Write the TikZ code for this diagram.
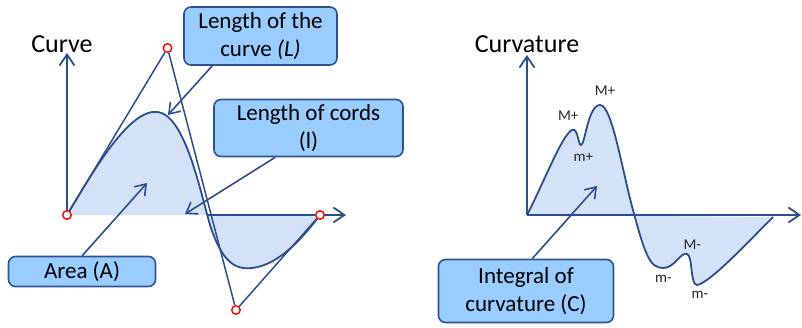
\documentclass[tikz,border=0pt]{standalone}
\usepackage{fontspec}
\setmainfont{Carlito}
\usetikzlibrary{arrows.meta}
\definecolor{navy}{HTML}{2E4D8E}
\definecolor{boxfill}{HTML}{99CCFF}
\definecolor{boxline}{HTML}{2F528F}
\definecolor{areafill}{HTML}{D4E2F7}
\tikzset{
  curveline/.style={draw=navy, line width=1.8pt},
  axisline/.style={draw=navy, line width=1.8pt, -{Straight Barb[length=11pt,width=15pt,line width=1.8pt]}},
  callarrow/.style={draw=navy, line width=1.6pt, -{Straight Barb[length=10pt,width=14pt,line width=1.6pt]}},
  chord/.style={draw=navy, line width=1.5pt},
  dot/.style={circle, draw=red, fill=white, line width=1.4pt, minimum size=8.5pt, inner sep=0pt},
  callbox/.style={draw=boxline, fill=boxfill, line width=1.6pt, rounded corners=7pt, align=center, inner sep=0pt, font=\fontsize{23}{28}\selectfont},
  title/.style={font=\fontsize{26}{30}\selectfont},
  small/.style={font=\fontsize{15}{18}\selectfont, text=black!85}
}
\begin{document}
\begin{tikzpicture}[x=1pt,y=-1pt]
\useasboundingbox (0,0) rectangle (802,327);
% ---------- left panel ----------
\coordinate (o1) at (67,215);
\coordinate (xc) at (207,215);
\coordinate (xe) at (346,215);
\coordinate (ye) at (67,53);
\fill[areafill] (67,215) .. controls (95,168) and (130,108) .. (158,112)
  .. controls (185,116) and (200,190) .. (210,225)
  .. controls (222,262) and (235,270) .. (252,268)
  .. controls (280,265) and (305,235) .. (320,215) -- cycle;
\draw[axisline] (xc) -- (xe);
\draw[axisline] (o1) -- (ye);
\draw[curveline] (67,215) .. controls (95,168) and (130,108) .. (158,112)
  .. controls (185,116) and (200,190) .. (210,225)
  .. controls (222,262) and (235,270) .. (252,268)
  .. controls (280,265) and (305,235) .. (320,215);
\node[dot] (p0) at (67,215) {};
\node[dot] (p1) at (167.5,48) {};
\node[dot] (p2) at (236,310) {};
\node[dot] (p3) at (320,215) {};
\draw[chord] (p0) -- (p1);
\draw[chord] (p1) -- (p2);
\draw[chord] (p2) -- (p3);
\node[title] (t1) at (62,44) {Curve};
\node[callbox, minimum width=153pt, minimum height=58pt] (bL) at (260.5,36) {Length of the\\curve \textit{(L)}};
\node[callbox, minimum width=189pt, minimum height=57pt] (bl) at (308.5,128) {Length of cords\\(l)};
\node[callbox, minimum width=147pt, minimum height=30pt] (bA) at (82,271.5) {Area (A)};
\coordinate (tL) at (168,115);
\coordinate (tl) at (185,214);
\coordinate (tA) at (147,183);
\draw[callarrow] (bL.south west) ++(29,0) -- (tL);
\draw[callarrow] (bl.south west) ++(62,0) -- (tl);
\draw[callarrow] (bA.north west) ++(74.5,0) -- (tA);
% ---------- right panel ----------
\coordinate (o2) at (527,215);
\coordinate (xe2) at (801,215);
\coordinate (ye2) at (527,55);
\fill[areafill] (527,215) .. controls (545,180) and (562,135) .. (572,130)
  .. controls (578,127) and (578,145) .. (581,145)
  .. controls (585,145) and (588,105) .. (600,105)
  .. controls (612,105) and (622,170) .. (633,210)
  .. controls (645,255) and (650,268) .. (663,268)
  .. controls (675,268) and (680,252) .. (687,254)
  .. controls (693,256) and (690,285) .. (697,285)
  .. controls (710,283) and (750,240) .. (773,217) -- cycle;
\draw[curveline] (527,215) .. controls (545,180) and (562,135) .. (572,130)
  .. controls (578,127) and (578,145) .. (581,145)
  .. controls (585,145) and (588,105) .. (600,105)
  .. controls (612,105) and (622,170) .. (633,210)
  .. controls (645,255) and (650,268) .. (663,268)
  .. controls (675,268) and (680,252) .. (687,254)
  .. controls (693,256) and (690,285) .. (697,285)
  .. controls (710,283) and (750,240) .. (773,217);
\draw[axisline] (o2) -- (xe2);
\draw[axisline] (o2) -- (ye2);
\node[title] (t2) at (527,44) {Curvature};
\node[small] (l1) at (568.3,116) {M+};
\node[small] (l2) at (605,91) {M+};
\node[small] (l3) at (583.3,157.3) {m+};
\node[small] (l4) at (692.3,244.3) {M-};
\node[small] (l5) at (663.3,279.3) {m-};
\node[small] (l6) at (700,295) {m-};
\node[callbox, minimum width=175pt, minimum height=63pt] (bC) at (526,291) {Integral of\\curvature (C)};
\coordinate (tC) at (597,186);
\draw[callarrow] (bC.north west) ++(94.5,0) -- (tC);
\end{tikzpicture}
\end{document}
